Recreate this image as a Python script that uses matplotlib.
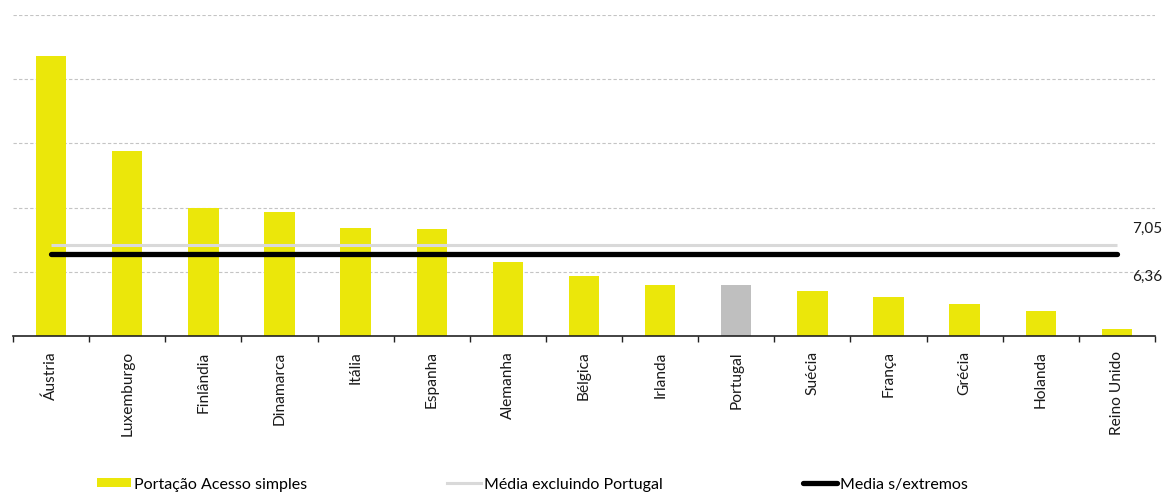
import matplotlib
matplotlib.use("Agg")
import matplotlib.pyplot as plt
from matplotlib.patches import Patch
from matplotlib.lines import Line2D
from matplotlib.ticker import FixedLocator

# Portação - acesso simples, por país
countries = ["Áustria", "Luxemburgo", "Finlândia", "Dinamarca", "Itália", "Espanha",
             "Alemanha", "Bélgica", "Irlanda", "Portugal", "Suécia", "França",
             "Grécia", "Holanda", "Reino Unido"]
values = [21.82, 14.43, 9.98, 9.69, 8.44, 8.36, 5.80, 4.69, 3.98, 3.98,
          3.49, 3.07, 2.48, 1.95, 0.55]
mean_excl_pt = 7.05
mean_no_extremes = 6.36

YELLOW = "#ebe70a"
PT_GREY = "#bfbfbf"
GRID = "#c4c4c4"
MEAN_GREY = "#d9d9d9"
INK = "#1a1a1a"

plt.rcParams["font.family"] = ["Lato", "DejaVu Sans"]

fig = plt.figure(figsize=(11.76, 4.93), dpi=100)
ax = fig.add_axes([13 / 1176, 157 / 493, 1142 / 1176, 321 / 493])

x = list(range(len(countries)))
colors = [PT_GREY if c == "Portugal" else YELLOW for c in countries]
ax.bar(x, values, width=0.4, color=colors, zorder=2)

ax.plot([x[0], x[-1]], [mean_excl_pt] * 2, color=MEAN_GREY, lw=2.2,
        solid_capstyle="butt", zorder=3)
ax.plot([x[0], x[-1]], [mean_no_extremes] * 2, color="black", lw=3.8,
        solid_capstyle="round", zorder=4)

ax.annotate("7,05", xy=(1162 / 1176, mean_excl_pt), xycoords=("figure fraction", "data"),
            xytext=(0, 12), textcoords="offset points", ha="right", va="center",
            fontsize=11, color=INK, annotation_clip=False)
ax.annotate("6,36", xy=(1162 / 1176, mean_no_extremes), xycoords=("figure fraction", "data"),
            xytext=(0, -16.5), textcoords="offset points", ha="right", va="center",
            fontsize=11, color=INK, annotation_clip=False)

ax.set_xlim(-0.5, len(countries) - 0.5)
ax.set_ylim(0, 25)
ax.set_yticks([5, 10, 15, 20, 25])
ax.yaxis.grid(True, color=GRID, linestyle=(0, (3, 2)), linewidth=0.8, zorder=0)
ax.tick_params(axis="y", left=False, labelleft=False)

ax.xaxis.set_major_locator(FixedLocator([i - 0.5 for i in range(len(countries) + 1)]))
ax.xaxis.set_minor_locator(FixedLocator(x))
ax.set_xticklabels([], minor=False)
ax.set_xticklabels(countries, minor=True, rotation=90, va="top", ha="center",
                   fontsize=11.2, color=INK)
ax.tick_params(axis="x", which="major", direction="out", length=4, width=1, color="#222222")
ax.tick_params(axis="x", which="minor", length=0, pad=11)

for s in ("top", "right", "left"):
    ax.spines[s].set_visible(False)
ax.spines["bottom"].set_color("#222222")
ax.spines["bottom"].set_linewidth(1.2)

# one legend per entry so each sits at its own x position
entries = [
    (Patch(facecolor=YELLOW, edgecolor="none", label="Portação Acesso simples"), 97),
    (Line2D([], [], color=MEAN_GREY, lw=2.2, label="Média excluindo Portugal"), 447),
    (Line2D([], [], color="black", lw=3.8, solid_capstyle="round",
            label="Media s/extremos"), 803),
]
for handle, left_px in entries:
    fig.legend(handles=[handle], loc="center left",
               bbox_to_anchor=(left_px / 1176, 8.5 / 493),
               frameon=False, fontsize=11.5, handlelength=2.1, handleheight=0.5,
               handletextpad=0.2, borderpad=0, borderaxespad=0)

fig.savefig("out.png", dpi=100)
